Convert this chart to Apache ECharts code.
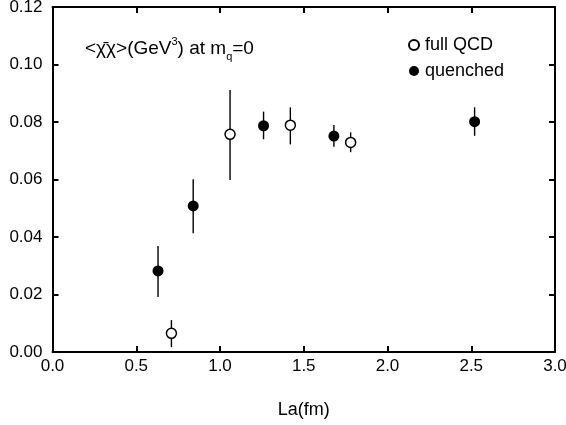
<!DOCTYPE html>
<html>
<head>
<meta charset="utf-8">
<script src="https://cdn.jsdelivr.net/npm/echarts@6/dist/echarts.min.js"></script>
<style>html,body{margin:0;padding:0;background:#fff;}#c{width:566px;height:425px;}</style>
</head>
<body>
<div id="c"></div>
<script>
// Data: [La(fm), value, lower, upper]
const fullQCD_x = [0.71, 1.06, 1.42, 1.78];
const fullQCD_y = [0.0065, 0.0757, 0.0789, 0.0729];
const fullQCD_lo = [0.0017, 0.0598, 0.0722, 0.0695];
const fullQCD_hi = [0.0111, 0.0911, 0.0851, 0.0764];

const quenched_x = [0.63, 0.84, 1.26, 1.68, 2.52];
const quenched_y = [0.0282, 0.0508, 0.0787, 0.0751, 0.0801];
const quenched_lo = [0.0191, 0.0413, 0.0740, 0.0714, 0.0752];
const quenched_hi = [0.0369, 0.0601, 0.0836, 0.0790, 0.0851];

const xTicks = [0, 0.5, 1.0, 1.5, 2.0, 2.5, 3.0];
const yTicks = [0, 0.02, 0.04, 0.06, 0.08, 0.10, 0.12];

const FONT = '"Liberation Sans", Arial, Helvetica, sans-serif';

function pts(xs, ys) { return xs.map((x, i) => [x, ys[i]]); }
function errs(xs, lo, hi) { return xs.map((x, i) => [x, lo[i], hi[i]]); }

const errRender = function (params, api) {
  const x = api.value(0);
  const p1 = api.coord([x, api.value(1)]);
  const p2 = api.coord([x, api.value(2)]);
  return {
    type: 'line',
    shape: { x1: p1[0], y1: p1[1], x2: p2[0], y2: p2[1] },
    style: { stroke: '#000', lineWidth: 1.4 }
  };
};

const chart = echarts.init(document.getElementById('c'), null, { renderer: 'canvas' });

const axisCommon = {
  axisLine: { show: true, onZero: false, lineStyle: { color: '#000', width: 2 } },
  axisTick: { show: true, inside: true, length: 6, lineStyle: { color: '#000', width: 2 } },
  splitLine: { show: false }
};

chart.setOption({
  animation: false,
  backgroundColor: '#fff',
  grid: { left: 52.5, right: 11, top: 7, bottom: 73, containLabel: false, outerBoundsMode: 'none' },
  legend: {
    orient: 'vertical',
    left: 403,
    top: 31,
    itemWidth: 10,
    itemHeight: 10,
    itemGap: 8,
    icon: 'circle',
    textStyle: { fontFamily: FONT, fontSize: 18, color: '#000', padding: [0, 0, 0, 1] },
    data: ['full QCD', 'quenched']
  },
  xAxis: [
    Object.assign({
      type: 'value', min: 0, max: 3, interval: 0.5, position: 'bottom',
      name: 'La(fm)', nameLocation: 'middle', nameGap: 49,
      nameTextStyle: { fontFamily: FONT, fontSize: 18, color: '#000' },
      axisLabel: {
        fontFamily: FONT, fontSize: 17, color: '#000', margin: 6,
        formatter: v => xTicks.some(t => Math.abs(t - v) < 1e-9) ? v.toFixed(1) : ''
      }
    }, axisCommon),
    Object.assign({
      type: 'value', min: 0, max: 3, interval: 0.5, position: 'top',
      axisLabel: { show: false }
    }, axisCommon)
  ],
  yAxis: [
    Object.assign({
      type: 'value', min: 0, max: 0.12, interval: 0.02, position: 'left',
      axisLabel: {
        fontFamily: FONT, fontSize: 17, color: '#000', margin: 10,
        formatter: v => yTicks.some(t => Math.abs(t - v) < 1e-9) ? v.toFixed(2) : ''
      }
    }, axisCommon),
    Object.assign({
      type: 'value', min: 0, max: 0.12, interval: 0.02, position: 'right',
      axisLabel: { show: false }
    }, axisCommon)
  ],
  graphic: [{
    type: 'text',
    left: 85,
    top: 36,
    style: {
      text: '{m|<χ̄χ>(GeV}{s|3}{m|) at m}{b|q}{m|=0}',
      fontFamily: FONT,
      rich: {
        m: { fontFamily: FONT, fontSize: 19, color: '#000', lineHeight: 26, verticalAlign: 'middle' },
        s: { fontFamily: FONT, fontSize: 11, color: '#000', lineHeight: 26, verticalAlign: 'top' },
        b: { fontFamily: FONT, fontSize: 11, color: '#000', lineHeight: 26, verticalAlign: 'bottom' }
      }
    }
  }],
  series: [
    {
      type: 'custom', name: 'errFull', renderItem: errRender,
      data: errs(fullQCD_x, fullQCD_lo, fullQCD_hi), z: 2, silent: true,
      encode: { x: 0, y: [1, 2] }
    },
    {
      type: 'custom', name: 'errQ', renderItem: errRender,
      data: errs(quenched_x, quenched_lo, quenched_hi), z: 2, silent: true,
      encode: { x: 0, y: [1, 2] }
    },
    {
      type: 'scatter', name: 'full QCD', data: pts(fullQCD_x, fullQCD_y),
      symbol: 'circle', symbolSize: 10, z: 3,
      itemStyle: { color: '#fff', borderColor: '#000', borderWidth: 1.5, opacity: 1 }
    },
    {
      type: 'scatter', name: 'quenched', data: pts(quenched_x, quenched_y),
      symbol: 'circle', symbolSize: 11, z: 3,
      itemStyle: { color: '#000', borderColor: '#000', borderWidth: 0, opacity: 1 }
    }
  ]
});
</script>
</body>
</html>
